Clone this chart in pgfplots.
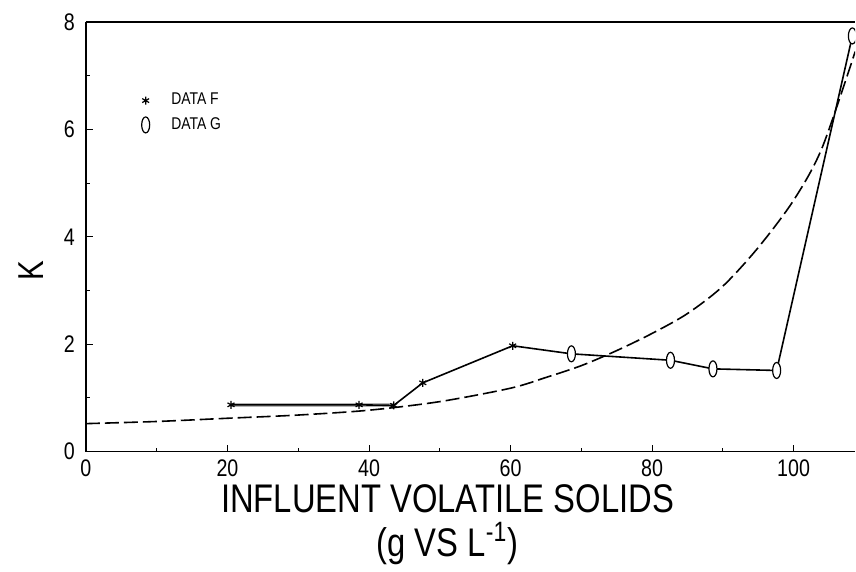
\documentclass[border=0pt]{standalone}
\usepackage{fontspec}
\setmainfont{Liberation Sans}[FakeStretch=0.82]
\usepackage{pgfplots}
\pgfplotsset{compat=1.18}
\pgfdeclareplotmark{vell}{%
  \pgfpathellipse{\pgfpointorigin}{\pgfpoint{0.5\pgfplotmarksize}{0pt}}{\pgfpoint{0pt}{\pgfplotmarksize}}%
  \pgfusepathqfillstroke}
\begin{document}
\begin{tikzpicture}
\begin{axis}[
  scale only axis,
  width=385pt, height=215pt,
  xmin=0, xmax=108.7, ymin=0, ymax=8,
  axis x line=box, axis y line*=left,
  xtick={0,20,...,100}, ytick={0,2,...,8},
  minor xtick={10,30,...,90}, minor ytick={1,3,5,7},
  xtick pos=left, ytick pos=left,
  tick align=inside,
  major tick length=3.5pt, minor tick length=2pt,
  tick style={black, line width=0.5pt},
  axis line style={black, line width=0.8pt},
  /pgf/number format/assume math mode=true,
  tick label style={font=\fontsize{12}{13}\selectfont},
  xticklabel style={yshift=-0.5pt},
  yticklabel style={xshift=-2pt},
  xlabel={INFLUENT VOLATILE SOLIDS\\[1pt](g VS L\textsuperscript{-1})},
  xlabel style={align=center, font=\fontsize{20}{21}\selectfont, at={(axis description cs:0.47,0)}, anchor=north, yshift=-13pt},
  ylabel={K},
  ylabel style={font=\fontsize{18}{19}\selectfont, at={(axis description cs:0,0.42)}, anchor=center, yshift=27.5pt},
  clip mode=individual,
  clip marker paths=true,
  legend style={draw=none, fill=none, at={(axis cs:7.5,6.68)}, anchor=north west,
    font=\fontsize{8.5}{9}\selectfont, row sep=4.5pt, inner sep=0pt,
    nodes={inner sep=0pt}},
  legend cell align=left,
  legend image code/.code={\draw[#1] plot coordinates {(0.1cm,0cm)}; \path (0,0) (0.54cm,0);},
]
% gray band on the first flat stretch
\addplot[gray!60, line width=2pt, forget plot] coordinates {(20.5,0.87) (43.5,0.87)};
% solid connecting line
\addplot[black, line width=0.8pt, forget plot] coordinates {
 (20.5,0.87) (38.6,0.87) (43.5,0.86) (47.6,1.28) (60.3,1.97)
 (68.6,1.82) (82.6,1.70) (88.6,1.54) (97.6,1.51) (108.3,7.74)};
% dashed fit
\addplot[black, line width=0.8pt, dash pattern=on 7pt off 2.5pt, smooth, forget plot] coordinates {
 (0,0.52) (10,0.56) (20,0.62) (30,0.68) (40,0.77) (50,0.93) (60,1.18)
 (65,1.38) (70,1.6) (75,1.88) (80,2.2) (85,2.57) (90,3.08) (95,3.8)
 (100,4.68) (104,5.65) (108.7,7.45)};
\addplot[only marks, mark=asterisk, mark size=2pt, black, line width=0.6pt] coordinates {
 (20.5,0.87) (38.6,0.87) (43.5,0.86) (47.6,1.28) (60.3,1.97)};
\addlegendentry{DATA F}
\addplot[only marks, mark=vell, mark size=4pt, black, fill=white, line width=0.6pt] coordinates {
 (68.6,1.82) (82.6,1.70) (88.6,1.54) (97.6,1.51) (108.3,7.74)};
\addlegendentry{DATA G}
% page margins as in the reference
\path (axis description cs:0,1) ++(-43pt,11pt);
\path (axis description cs:0,0) ++(0pt,-60pt);
\end{axis}
\end{tikzpicture}
\end{document}
